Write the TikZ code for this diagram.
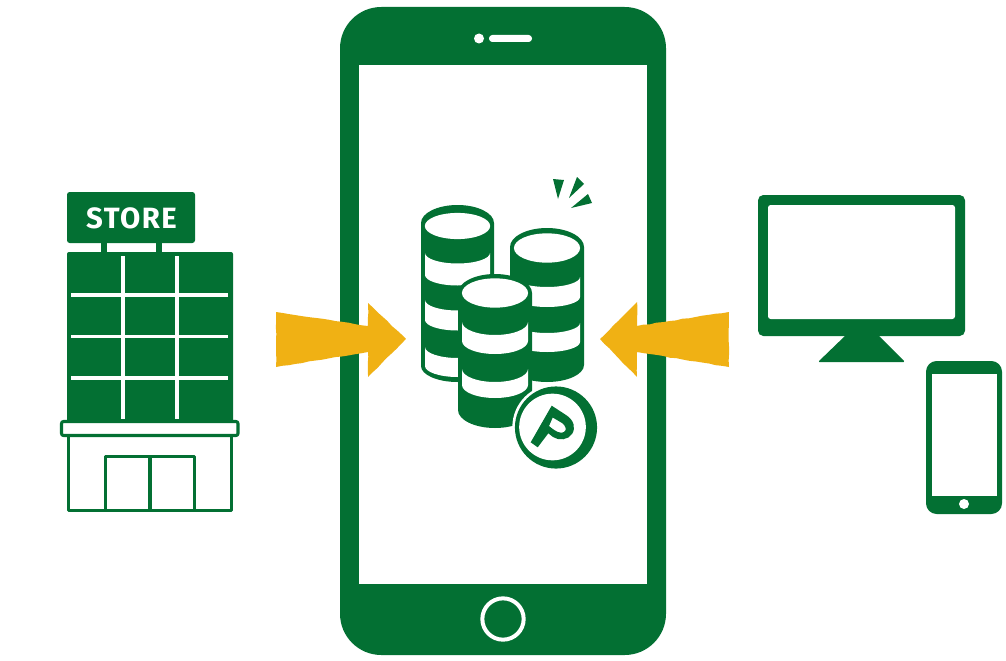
\documentclass[tikz,border=0pt]{standalone}
\usepackage{fontspec}
\setmainfont{Fira Sans}
\usetikzlibrary{decorations.pathmorphing}
\definecolor{leaf}{RGB}{3,112,51}
\definecolor{amber}{RGB}{240,177,20}
\tikzset{
  rough/.style={decorate,decoration={random steps,segment length=5pt,amplitude=.3pt}},
  solid leaf/.style={fill=leaf,draw=none},
  outline/.style={draw=leaf,line width=2.3pt,line join=round},
  gridline/.style={draw=white,line width=2.3pt},
  arrowbody/.style={fill=amber,draw=none,rough},
  cutout/.style={fill=white,draw=none}
}
% lower half-ellipse helpers
\newcommand{\lowLR}[4]{({#1-#2},#3) .. controls ({#1-#2},{#3+.55*#4}) and ({#1-.55*#2},{#3+#4}) .. (#1,{#3+#4}) .. controls ({#1+.55*#2},{#3+#4}) and ({#1+#2},{#3+.55*#4}) .. ({#1+#2},#3)}
\newcommand{\lowRL}[4]{({#1+#2},#3) .. controls ({#1+#2},{#3+.55*#4}) and ({#1+.55*#2},{#3+#4}) .. (#1,{#3+#4}) .. controls ({#1-.55*#2},{#3+#4}) and ({#1-#2},{#3+.55*#4}) .. ({#1-#2},#3)}
\newcommand{\coinband}[5]{\fill[cutout] \lowLR{#1}{#2}{#3}{#5} -- \lowRL{#1}{#2}{#4}{#5} -- cycle;}
% cx rx ycentre ry ysidebottom rybottom
\newcommand{\coinbody}[6]{\fill[solid leaf] ({#1-#2},#3) .. controls ({#1-#2},{#3-.55*#4}) and ({#1-.55*#2},{#3-#4}) .. (#1,{#3-#4}) .. controls ({#1+.55*#2},{#3-#4}) and ({#1+#2},{#3-.55*#4}) .. ({#1+#2},#3) -- \lowRL{#1}{#2}{#5}{#6} -- cycle;}
\begin{document}
\begin{tikzpicture}[x=0.75pt,y=-0.75pt]
\pgfmathsetseed{11}
\useasboundingbox (0,0) rectangle (1006,660);
\fill[white] (0,0) rectangle (1006,660);

% main phone
\fill[solid leaf,rounded corners=31pt] (340,7) rectangle (666,655);
\fill[cutout] (359,65) rectangle (647,584);
\fill[cutout] (479,38.5) circle[radius=3.75pt];
\fill[cutout,rounded corners=2.5pt] (489,35) rectangle (532,42);
\draw[white,line width=3pt] (503,619) circle[radius=15.5pt];

% arrows
\fill[arrowbody] (276,312) -- (368,326) -- (368,303) -- (406,339) -- (368,377) -- (368,352) -- (276,367) -- cycle;
\fill[arrowbody] (729,312) -- (637,326) -- (637,302) -- (600,339) -- (637,377) -- (637,352) -- (729,367) -- cycle;

% store
\fill[solid leaf,rounded corners=2pt] (67,192) rectangle (195,243);
\node[text=white,font=\fontsize{22}{22}\selectfont\bfseries\addfontfeatures{LetterSpace=5},inner sep=0pt] (storelabel) at (131.5,218) {STORE};
\fill[solid leaf] (101,243) rectangle (107,253);
\fill[solid leaf] (156,243) rectangle (162,253);
\fill[solid leaf,rounded corners=1.5pt] (67,252) rectangle (233,422);
\draw[gridline] (123,256) -- (123,419);
\draw[gridline] (177,256) -- (177,419);
\draw[gridline] (71,295) -- (228,295);
\draw[gridline] (71,336.5) -- (228,336.5);
\draw[gridline] (71,378) -- (228,378);
\draw[outline] (68.5,436) -- (68.5,510.5) -- (231.5,510.5) -- (231.5,436);
\draw[outline,fill=white,rounded corners=1.5pt] (61.5,421.5) rectangle (238,435.5);
\draw[outline] (105.5,510.5) -- (105.5,456.5) -- (194.5,456.5) -- (194.5,510.5);
\draw[outline] (150,456.5) -- (150,510.5);

% monitor
\fill[solid leaf,rounded corners=4pt] (758,195) rectangle (965,336);
\fill[cutout,rounded corners=2pt] (768,205) rectangle (955,319);
\fill[solid leaf,rounded corners=1pt] (846,335) -- (878,335) -- (905,362) -- (818,362) -- cycle;

% small phone
\fill[solid leaf,rounded corners=8pt] (926,361) rectangle (1002,514);
\fill[cutout] (932,374) rectangle (997,496);
\fill[cutout] (964,504) circle[radius=3.75pt];

% coins: left stack
\coinbody{457.5}{36.5}{223}{18}{366}{16}
\fill[cutout] (457.5,226) ellipse[x radius=24.5pt,y radius=9.8pt];
\coinband{457.5}{32.5}{253}{275}{10.5}
\coinband{457.5}{32.5}{300}{320}{10.5}
\coinband{457.5}{32.5}{347}{366}{11}
% right stack
\coinbody{547}{37}{247}{19}{365}{17}
\fill[cutout] (547,248) ellipse[x radius=24.8pt,y radius=11pt];
\coinband{547}{33}{277}{297}{10}
\coinband{547}{33}{323}{342}{10}
% front stack
\coinbody{495}{37}{293}{19}{410}{18}
\fill[cutout] (495,293) ellipse[x radius=24.8pt,y radius=11pt];
\coinband{495}{33}{322}{341}{13}
\coinband{495}{33}{369}{385}{13}

% sparks
\fill[solid leaf] (553,179) -- (564,180) -- (558,199) -- cycle;
\fill[solid leaf] (577,177) -- (584,184) -- (569,198) -- cycle;
\fill[solid leaf] (588,194) -- (592,203) -- (571,208) -- cycle;

% point coin
\fill[white] (555,427) circle[radius=32pt];
\fill[solid leaf] (556,427.5) circle[radius=30.8pt];
\fill[cutout] (552.5,427) circle[radius=25pt];
\fill[solid leaf,even odd rule]
  (551.7,405.7) -- (566,415) .. controls (574,420) and (576,428) .. (572,434) .. controls (568,440) and (559,441) .. (553,437) -- (548.3,433.3) -- (537.7,447.3) -- (530.7,442.3) -- cycle
  (552.7,417.5) -- (562,423) .. controls (566,426) and (567,430) .. (564,432) .. controls (561,434) and (556,432) .. (549,426) -- cycle;
\end{tikzpicture}
\end{document}
